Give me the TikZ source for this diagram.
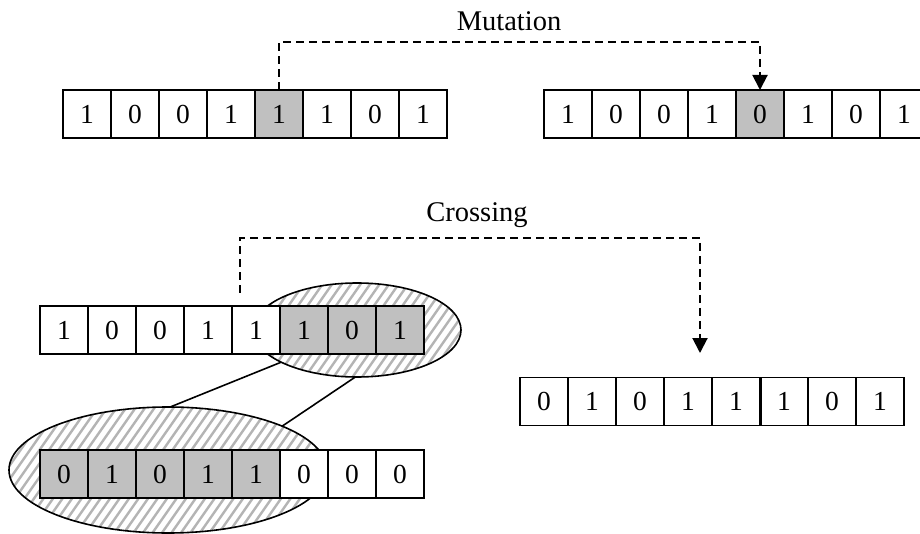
\documentclass[tikz,border=0pt]{standalone}
\usepackage{fontspec}
\setmainfont{Liberation Serif}
\usetikzlibrary{arrows.meta,shapes.geometric}
\definecolor{cellgray}{RGB}{192,192,192}
\definecolor{hatch}{RGB}{180,180,180}
\tikzset{
  cell/.style={draw=black, line width=1.9pt, fill=white, minimum width=48pt, minimum height=48pt, inner sep=0pt, outer sep=0pt, font=\fontsize{27.5}{30}\selectfont},
  graycell/.style={cell, fill=cellgray},
  oval/.style={draw=black, line width=1.6pt, ellipse, inner sep=0pt, outer sep=0pt},
  dasharrow/.style={line width=2pt, dash pattern=on 8pt off 5pt, -{Triangle[width=15pt,length=15pt]}},
  link/.style={line width=1.6pt},
  label/.style={font=\fontsize{28.5}{32}\selectfont, anchor=base, inner sep=0pt},
}
\newcommand{\hatchellipse}[4]{% cx cy rx ry
  \fill[white] (#1,#2) ellipse [x radius=#3, y radius=#4];
  \begin{scope}
    \clip (#1,#2) ellipse [x radius=#3, y radius=#4];
    \foreach \k in {-40,...,40} {
      \draw[hatch, line width=2.4pt] ({#1+\k*9.5-(#4+5)/1.428},{#2+#4+5}) -- ({#1+\k*9.5+(#4+5)/1.428},{#2-#4-5});
    }
  \end{scope}
}
\begin{document}
\begin{tikzpicture}[x=1pt,y=-1pt]
\useasboundingbox (0,0) rectangle (920,534);
\fill[white] (0,0) rectangle (920,534);

% hatched ellipses
\hatchellipse{357}{330}{104}{47}
\hatchellipse{168}{470}{159}{63}
\node[oval, minimum width=208pt, minimum height=94pt] (e1) at (357,330) {};
\node[oval, minimum width=318pt, minimum height=126pt] (e2) at (168,470) {};

% top-left array
\foreach \v [count=\i] in {1,0,0,1,1,1,0,1} {
  \ifnum\i=5 \node[graycell] (a\i) at ({87+(\i-1)*48},114) {\v};
  \else \node[cell] (a\i) at ({87+(\i-1)*48},114) {\v}; \fi
}
% top-right array
\foreach \v [count=\i] in {1,0,0,1,0,1,0,1} {
  \ifnum\i=5 \node[graycell] (b\i) at ({568+(\i-1)*48},114) {\v};
  \else \node[cell] (b\i) at ({568+(\i-1)*48},114) {\v}; \fi
}
% middle array
\foreach \v [count=\i] in {1,0,0,1,1,1,0,1} {
  \ifnum\i>5 \node[graycell] (c\i) at ({64+(\i-1)*48},330) {\v};
  \else \node[cell] (c\i) at ({64+(\i-1)*48},330) {\v}; \fi
}
% bottom-left array
\foreach \v [count=\i] in {0,1,0,1,1,0,0,0} {
  \ifnum\i<6 \node[graycell] (d\i) at ({64+(\i-1)*48},474) {\v};
  \else \node[cell] (d\i) at ({64+(\i-1)*48},474) {\v}; \fi
}
% bottom-right array
\foreach \v [count=\i] in {0,1,0,1,1,1,0,1} {
  \node[cell] (f\i) at ({544+(\i-1)*48},401.5) {\v};
}
\draw[line width=3pt] (f5.north east) -- (f5.south east);

% links between ellipses
\draw[link] (e1.203.6) -- (e2.88);
\draw[link] (e1.268) -- (e2.21.1);

% labels
\node[label] (mut) at (509,31) {Mutation};
\node[label] (cro) at (477,222) {Crossing};

% mutation arrow
\coordinate (mtop) at (0,42);
\draw[dasharrow] (a5.north) -- (a5.north |- mtop) -| (b5.north);

% crossing arrow
\coordinate (cstart) at (240,293);
\coordinate (ctop) at (0,238);
\coordinate (cend) at (700,353);
\draw[dasharrow] (cstart) -- (cstart |- ctop) -| (cend);
\end{tikzpicture}
\end{document}
